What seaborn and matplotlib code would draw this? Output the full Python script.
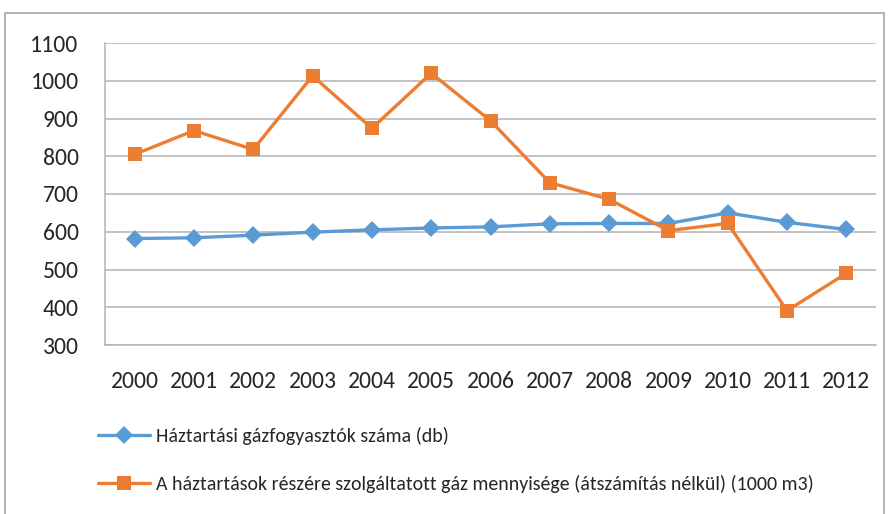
import pandas as pd
import numpy as np
import seaborn as sns
import matplotlib.pyplot as plt
from matplotlib import font_manager
from matplotlib.patches import Rectangle

# data
years = ['2000', '2001', '2002', '2003', '2004', '2005', '2006',
         '2007', '2008', '2009', '2010', '2011', '2012']
fogyasztok = [582, 584, 591, 599, 605, 610, 613, 621, 622, 622, 650, 625, 606]
gaz_mennyiseg = [805, 868, 818, 1013, 874, 1020, 894, 730, 686, 603, 622, 391, 490]
y_ticks = [300, 400, 500, 600, 700, 800, 900, 1000, 1100]

label_db = 'Háztartási gázfogyasztók száma (db)'
label_gaz = 'A háztartások részére szolgáltatott gáz mennyisége (átszámítás nélkül) (1000 m3)'

df = pd.DataFrame({'pos': np.arange(len(years)), 'ev': years,
                   'db': fogyasztok, 'gaz': gaz_mennyiseg})

sns.set_style('white')

# pick a font close to Calibri
names = {f.name for f in font_manager.fontManager.ttflist}
main_font = 'Carlito' if 'Carlito' in names else 'Liberation Sans'
plt.rcParams['font.family'] = [main_font, 'DejaVu Sans']

fig = plt.figure(figsize=(8.9, 5.14), dpi=100)
ax = fig.add_axes([105 / 890, 1 - 345 / 514, 771 / 890, 302 / 514])

blue = '#5B9BD5'
orange = '#ED7D31'
grid_c = '#B3B3B3'

sns.lineplot(data=df, x='pos', y='db', ax=ax, color=blue, linewidth=2.4,
             marker='D', markersize=9, markeredgewidth=0, label=label_db)
sns.lineplot(data=df, x='pos', y='gaz', ax=ax, color=orange, linewidth=2.4,
             marker='s', markersize=10, markeredgewidth=0, label=label_gaz)

ax.set_xlim(-0.5, len(years) - 0.5)
ax.set_ylim(300, 1100)
ax.set_yticks(y_ticks)
ax.set_yticklabels([str(v) for v in y_ticks])
ax.yaxis.grid(True, color=grid_c, linewidth=1.1)
ax.set_axisbelow(True)

# category boundaries as ticks, labels centered
ax.set_xticks(np.arange(-0.5, len(years), 1.0))
ax.set_xticklabels([])
ax.set_xticks(df['pos'], minor=True)
ax.set_xticklabels(years, minor=True)
ax.tick_params(axis='x', which='major', length=6, width=1, color=grid_c, direction='out')
ax.tick_params(axis='x', which='minor', length=0, pad=19, labelsize=17)
ax.tick_params(axis='y', length=6, width=1, color=grid_c, direction='out', pad=13, labelsize=17)
ax.set_xlabel('')
ax.set_ylabel('')

for side in ['top', 'right']:
    ax.spines[side].set_visible(False)
for side in ['left', 'bottom']:
    ax.spines[side].set_color(grid_c)
    ax.spines[side].set_linewidth(1.1)

ax.get_legend().remove()
handles, labels = ax.get_legend_handles_labels()
fig.legend(handles, labels, loc='upper left', bbox_to_anchor=(98 / 890, 1 - 427 / 514),
           frameon=False, borderpad=0, borderaxespad=0, handlelength=2.6,
           handletextpad=0.3, labelspacing=1.5,
           prop={'size': 14.3})

# outer chart frame
fig.patches.append(Rectangle((5 / 890, -0.01), 879 / 890, 1 - 13 / 514 + 0.01,
                             transform=fig.transFigure, fill=False,
                             edgecolor='#A6A6A6', linewidth=1.2))

fig.savefig('out.png', dpi=100)
